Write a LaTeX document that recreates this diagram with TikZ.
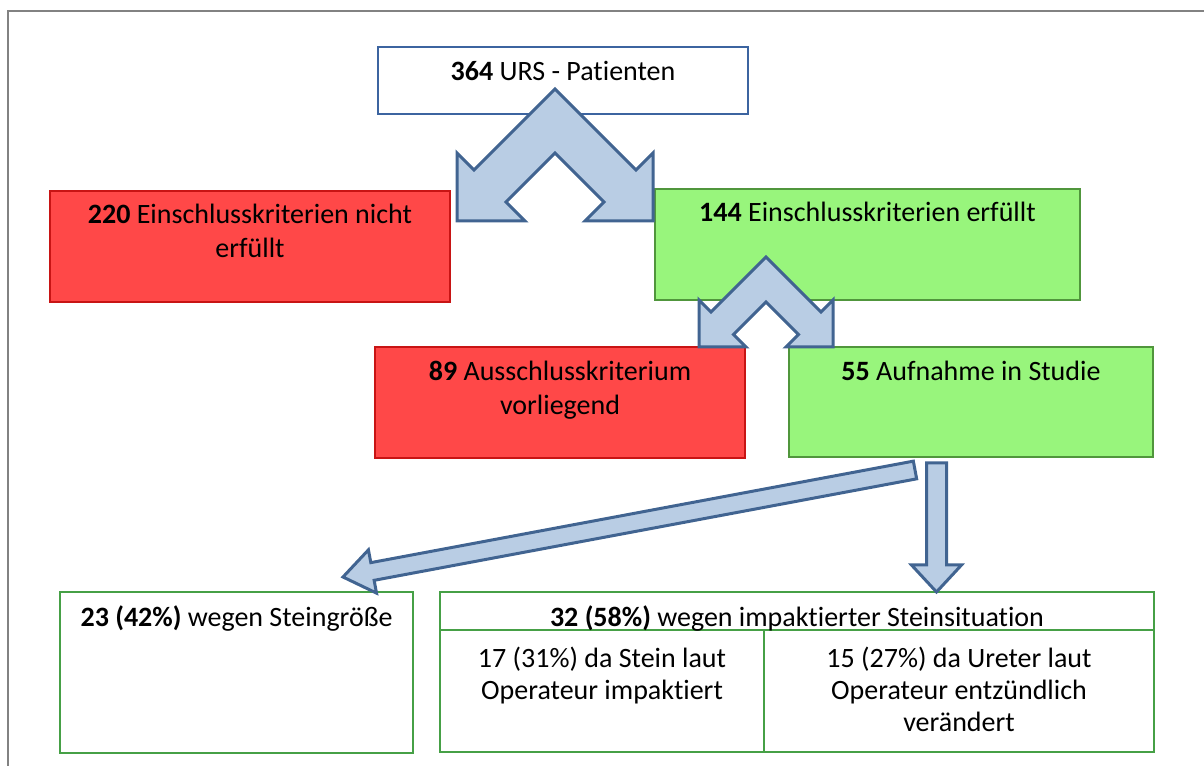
\documentclass[tikz,border=0pt]{standalone}
\usepackage{fontspec}
\setmainfont{Carlito}[Ligatures=NoCommon]
\usetikzlibrary{calc}
\definecolor{redfill}{RGB}{255,72,72}
\definecolor{reddraw}{RGB}{200,20,20}
\definecolor{greenfill}{RGB}{152,245,124}
\definecolor{greendraw}{RGB}{80,150,60}
\definecolor{boxgreen}{RGB}{70,160,70}
\definecolor{topblue}{RGB}{60,100,160}
\definecolor{arrowfill}{RGB}{185,205,228}
\definecolor{arrowdraw}{RGB}{65,100,145}
\definecolor{framegray}{RGB}{130,130,130}
\newcommand\blockarrow[6]{% #1 prefix, #2 start, #3 tip, #4 shaft half, #5 head half, #6 head length
  \coordinate (#1h) at ($(#3)!#6!(#2)$);
  \draw[barrow] ($(#2)!#4!90:(#3)$) -- ($(#1h)!#4!90:(#3)$) -- ($(#1h)!#5!90:(#3)$)
    -- (#3) -- ($(#1h)!#5!-90:(#3)$) -- ($(#1h)!#4!-90:(#3)$) -- ($(#2)!#4!-90:(#3)$) -- cycle;
}
\begin{document}
\begin{tikzpicture}[x=0.75pt,y=-0.75pt,
  every node/.style={inner sep=0pt, outer sep=0pt},
  box/.style={anchor=north west, line width=1.5pt},
  redbox/.style={box, fill=redfill, draw=reddraw},
  greenbox/.style={box, fill=greenfill, draw=greendraw},
  whitebox/.style={box, fill=white, draw=boxgreen},
  topbox/.style={box, fill=white, draw=topblue},
  txt/.style={anchor=base, align=center, font=\fontsize{21}{25.5}\selectfont},
  txtb/.style={anchor=base, align=center, font=\fontsize{21}{24}\selectfont},
  barrow/.style={fill=arrowfill, draw=arrowdraw, line width=2.25pt, line join=miter},
  frame/.style={draw=framegray, line width=1.5pt}
]
\useasboundingbox (0,0) rectangle (1204,766);
% frame
\draw[frame] (7.5,766) -- (7.5,11.5) -- (1204,11.5);

% boxes
\node[topbox, minimum width=277.5pt, minimum height=50.25pt] (n364) at (378,47) {};
\node[redbox, minimum width=300pt, minimum height=83.25pt] (n220) at (50,191) {};
\node[greenbox, minimum width=318.75pt, minimum height=83.25pt] (n144) at (655,189) {};
\node[redbox, minimum width=277.5pt, minimum height=83.25pt] (n89) at (375,347) {};
\node[greenbox, minimum width=273pt, minimum height=82.5pt] (n55) at (789,347) {};
\node[whitebox, minimum width=264.75pt, minimum height=120.75pt] (n23) at (60,592) {};
\node[whitebox, minimum width=535.5pt, minimum height=28.5pt] (n32) at (440,592) {};
\node[whitebox, minimum width=243pt, minimum height=91.5pt] (n17) at (440,630) {};
\node[whitebox, minimum width=292.5pt, minimum height=91.5pt] (n15) at (764,630) {};

% texts (base anchor = baseline of the last line)
\node[txt] (t364) at ($(n364.north)+(0,34)$) {\textbf{364} URS - Patienten};
\node[txt] (t220) at ($(n220.north)+(0,67)$) {\textbf{220} Einschlusskriterien nicht\\erfüllt};
\node[txt] (t144) at ($(n144.north)+(0,33)$) {\textbf{144} Einschlusskriterien erfüllt};
\node[txt] (t89) at ($(n89.north)+(0,68)$) {\textbf{89} Ausschlusskriterium\\vorliegend};
\node[txt] (t55) at ($(n55.north)+(0,34)$) {\textbf{55} Aufnahme in Studie};
\node[txt] (t23) at ($(n23.north)+(0,35)$) {\textbf{23 (42\%)} wegen Steingröße};
\node[txt] (t32) at ($(n32.north)+(0,34)$) {\textbf{32 (58\%)} wegen impaktierter Steinsituation};
\node[txtb] (t17) at ($(n17.north)+(0,69)$) {17 (31\%) da Stein laut\\Operateur impaktiert};
\node[txtb] (t15) at ($(n15.north)+(0,101)$) {15 (27\%) da Ureter laut\\Operateur entzündlich\\verändert};

% chevron arrow 1 (364 -> 220 / 144)
\draw[barrow] (555,89) -- (636,170) -- (653,153) -- (653,221) -- (585,221) -- (604,202)
  -- (555,153) -- (506,202) -- (525,221) -- (457,221) -- (457,153) -- (474,170) -- cycle;
% chevron arrow 2 (144 -> 89 / 55)
\draw[barrow] (766,257) -- (821,312) -- (833,300) -- (833,347) -- (786,347) -- (798.5,334.5)
  -- (766,302) -- (733.5,334.5) -- (746,347) -- (699,347) -- (699,300) -- (711,312) -- cycle;

% arrows from 55
\coordinate (dS) at (915,470);
\coordinate (dT) at (343,577);
\blockarrow{d}{dS}{dT}{6.75pt}{16.5pt}{22.5pt}
\coordinate (vS) at (936.5,463);
\coordinate (vT) at (936.5,592);
\blockarrow{v}{vS}{vT}{7.5pt}{18.75pt}{20.25pt}
\end{tikzpicture}
\end{document}
